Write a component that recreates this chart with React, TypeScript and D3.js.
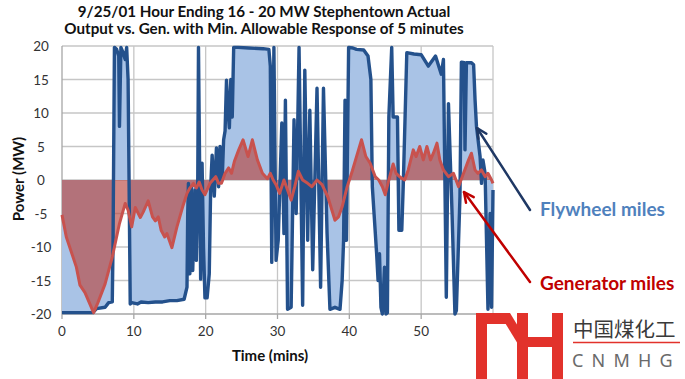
import React from "react";
import * as d3 from "d3";

const titleLines = [
  "9/25/01 Hour Ending 16 - 20 MW Stephentown Actual",
  "Output vs. Gen. with Min. Allowable Response of 5 minutes",
];
const xTicks = [0, 10, 20, 30, 40, 50];
const xGrid = [10, 20, 30, 40, 50, 60];
const yTicks = [20, 15, 10, 5, 0, -5, -10, -15, -20];

const flywheelTime = [0,1,2,3,4.3,4.8,6.0,6.5,7.0,7.1,7.3,7.6,7.9,8.0,8.2,8.5,8.8,9.0,9.2,9.5,9.7,10.5,11,12,13,14,15,16,17.0,17.4,17.5,17.6,17.8,18.0,18.2,18.5,18.7,18.9,19.0,19.15,19.3,19.5,19.7,19.9,20.2,20.5,20.7,20.9,21.2,21.5,21.8,22.0,22.3,22.5,22.7,22.9,23.1,23.3,23.5,23.7,23.9,24.5,26,28,28.8,29.0,29.2,29.5,29.8,30.1,30.6,30.9,31.1,31.4,31.9,32.3,32.6,33.0,33.5,33.8,34.2,34.5,34.9,35.5,36.0,36.4,36.9,37.3,38.0,38.7,39.0,39.2,39.4,39.6,39.9,40.5,41,42.0,42.6,43.0,43.2,43.5,43.8,44.0,44.2,44.4,44.6,44.9,45.1,45.3,45.5,45.9,46.1,46.7,46.9,47.3,47.5,48.0,49,50,51,52,52.8,53.1,53.5,53.8,54.3,54.7,54.9,55.4,55.6,56.0,56.1,56.3,57.0,57.3,57.5,57.7,58.2,58.4,58.6,58.9,59.3,59.6,59.8,60];
const flywheelMW = [-19.8,-19.8,-19.8,-19.8,-19.8,-19.2,-19.0,-18.3,-18.2,-10,19.8,19.5,18.5,8,19.8,19.0,18,19.8,15,-18.5,-18.3,-18.5,-18.2,-18.3,-18.2,-18.2,-18.0,-18.0,-17.8,-16,-5,-0.5,-14,-1,-13.5,-1.5,-12,0.3,19.8,3,-14.8,2.5,-10,-17.6,-17.6,-14,-1,3.7,-2.4,4.8,-1,5,0,6,7.3,14.9,10.4,7.8,15,9.4,19.8,19.8,19.7,19.6,19.5,17,-12.3,19.8,-12,-9,8.5,-8,11.9,-19.3,-19.0,9,-5,19.8,-18.7,16.4,-9,10.4,-13.4,13.7,-16,13.7,-8,-19.3,-19,-19.3,-15,-9,11.9,-9,19.8,19.7,19.5,19.4,18.5,15,-1,-6,-11,-15,-11,-19,-20,-13,-20,-19.8,9.4,19.8,9.4,9.4,-7.5,-7.5,-1,19,18.8,18.7,17,18.5,15.8,18,-17.5,11.4,-5,-20,-19.5,-2.5,17.6,17.5,4.5,17.5,17.5,17.2,12,8,3.5,-0.5,3,1,-19.3,-5,-19,-1.5];

const generatorTime = [0,0.6,2.0,2.5,3.2,4.4,5.0,6.0,7.0,8.0,8.8,9.2,9.7,10.2,10.9,11.3,12.0,12.6,13.0,13.4,13.8,14.3,14.6,15.3,16.0,16.8,17.4,17.8,18.3,18.7,19.1,19.5,19.9,20.6,21.0,21.4,21.8,22.2,22.7,23.2,23.6,24.0,24.6,25.2,25.9,26.5,27.2,27.9,28.6,29.0,29.4,29.8,30.3,30.9,31.4,31.9,32.4,32.9,33.5,34.2,34.8,35.5,36.2,37.0,38.0,38.5,39.0,39.7,40.4,41.0,41.7,42.3,42.9,43.6,44.1,44.6,45.0,45.5,46.1,46.5,47.0,47.7,48.2,48.9,49.3,49.8,50.3,50.8,51.3,51.7,52.2,52.6,53.1,53.8,54.5,55.2,55.9,56.6,57.0,57.5,57.9,58.4,58.9,59.3,59.8,60.0];
const generatorMW = [-5.2,-8.5,-13,-15.7,-16.8,-19.8,-18.3,-15.5,-11.5,-6.5,-3.5,-4.5,-7,-4.1,-5.6,-4.8,-3.1,-5.5,-6.1,-5.5,-7.5,-8.5,-8,-10.1,-7,-4,-2,-1.2,-0.5,-1.2,-0.3,-1.5,-2.2,-0.5,0,0.5,-0.5,-0.5,1,1.8,1,2.8,4.5,6,3.5,6,3,1,0.2,1,0,-0.7,-2,0,-1.5,-3,-1,1.3,0,-0.5,-1,0,-0.7,-2.5,-6,-5.5,-4,-1,1.3,3.5,6,3.5,2.5,0.5,0,-1,-2.2,0,2.4,1,0.5,0,1.5,4.5,3.5,5,3,5,3,4,5.5,3,1.5,0.5,1,-1,1,3,4,1.5,1,1.5,0.5,1,0,-0.5];

const W = 685, H = 379;
const FONT = "Lato, 'Open Sans', sans-serif";

export default function App() {
  const x = d3.scaleLinear().domain([0, 60]).range([62, 493]);
  const y = d3.scaleLinear().domain([-20, 20]).range([314, 46]);

  const fly = flywheelTime.map((t, i) => [t, flywheelMW[i]] as [number, number]);
  const gen = generatorTime.map((t, i) => [t, generatorMW[i]] as [number, number]);

  const area = d3.area<[number, number]>().x(d => x(d[0])).y0(y(0)).y1(d => y(d[1]));
  const line = d3.line<[number, number]>().x(d => x(d[0])).y(d => y(d[1]));

  const arrow = (x1: number, y1: number, x2: number, y2: number, color: string) => {
    const a = Math.atan2(y2 - y1, x2 - x1);
    const L = 11, s = 0.45;
    const p1 = [x2 - L * Math.cos(a - s), y2 - L * Math.sin(a - s)];
    const p2 = [x2 - L * Math.cos(a + s), y2 - L * Math.sin(a + s)];
    return (
      <g stroke={color} strokeWidth={2.5} fill="none" strokeLinecap="round">
        <line x1={x1} y1={y1} x2={x2} y2={y2} />
        <path d={`M${p1[0]},${p1[1]} L${x2},${y2} L${p2[0]},${p2[1]}`} strokeLinejoin="round" />
      </g>
    );
  };

  return (
    <svg width={W} height={H} style={{ position: "fixed", left: 0, top: 0, background: "#fff" }}>
      <rect width={W} height={H} fill="#fff" />
      {titleLines.map((t, i) => (
        <text key={i} x={264} y={17 + i * 17} textAnchor="middle" fontFamily={FONT} fontWeight="bold" fontSize={15.2} fill="#111">{t}</text>
      ))}
      {yTicks.filter(v => v > -20).map(v => (
        <line key={"h" + v} x1={x(0)} x2={x(60)} y1={y(v)} y2={y(v)} stroke="#c6c6c6" strokeWidth={1.3} />
      ))}
      {xGrid.map(v => (
        <line key={"v" + v} x1={x(v)} x2={x(v)} y1={y(20)} y2={y(-20)} stroke="#c6c6c6" strokeWidth={1.3} />
      ))}
      <line x1={x(0)} x2={x(0)} y1={y(20)} y2={y(-20)} stroke="#a6a6a6" strokeWidth={1.3} />
      <line x1={x(0)} x2={x(60)} y1={y(-20)} y2={y(-20)} stroke="#a6a6a6" strokeWidth={1.3} />
      {xGrid.concat([0]).map(v => (
        <line key={"t" + v} x1={x(v)} x2={x(v)} y1={y(-20)} y2={y(-20) + 5} stroke="#a6a6a6" strokeWidth={1.3} />
      ))}
      <path d={area(fly) || ""} fill="#a9c3e6" />
      <path d={area(gen) || ""} fill="rgba(185,70,65,0.65)" />
      <path d={line(fly) || ""} fill="none" stroke="#24518c" strokeWidth={3.4} strokeLinejoin="round" />
      <path d={line(gen) || ""} fill="none" stroke="#c8524e" strokeWidth={3} strokeLinejoin="round" />
      {yTicks.map(v => (
        <text key={"yl" + v} x={41} y={y(v) + 5} textAnchor="middle" fontFamily={FONT} fontSize={13.5} fill="#333">{v}</text>
      ))}
      {xTicks.map(v => (
        <text key={"xl" + v} x={x(v)} y={336} textAnchor="middle" fontFamily={FONT} fontSize={13.5} fill="#333">{v}</text>
      ))}
      <text x={270} y={361} textAnchor="middle" fontFamily={FONT} fontWeight="bold" fontSize={15} fill="#111">Time (mins)</text>
      <text transform="translate(24,179) rotate(-90)" textAnchor="middle" fontFamily={FONT} fontWeight="bold" fontSize={15} fill="#111">Power (MW)</text>
      {arrow(530, 210, 477, 128, "#1f3864")}
      {arrow(530, 282, 464, 192, "#c00000")}
      <text x={540} y={216} fontFamily={FONT} fontWeight="bold" fontSize={19} fill="#4f81bd">Flywheel miles</text>
      <text x={540} y={290} fontFamily={FONT} fontWeight="bold" fontSize={19} fill="#c00000">Generator miles</text>
      <g fill="#e2322b">
        <rect x={476} y={313} width={11} height={66} />
        <rect x={476} y={313} width={30} height={11} />
        <polygon points="499,313 510,313 527,341 521,349" />
        <rect x={517} y={313} width={11} height={66} />
        <rect x={517} y={337} width={45} height={10} />
        <rect x={552} y={313} width={11} height={66} />
      </g>
      <text x={573} y={337} fontFamily="'Noto Sans CJK SC', sans-serif" fontSize={20.5} fill="#3a3a3a">中国煤化工</text>
      <line x1={573} x2={680} y1={342.5} y2={342.5} stroke="#e2322b" strokeWidth={1.5} />
      <text x={572} y={367} fontFamily="'Noto Sans', sans-serif" fontSize={18} fill="#6a6a6a" letterSpacing={8.2}>CNMHG</text>
    </svg>
  );
}
